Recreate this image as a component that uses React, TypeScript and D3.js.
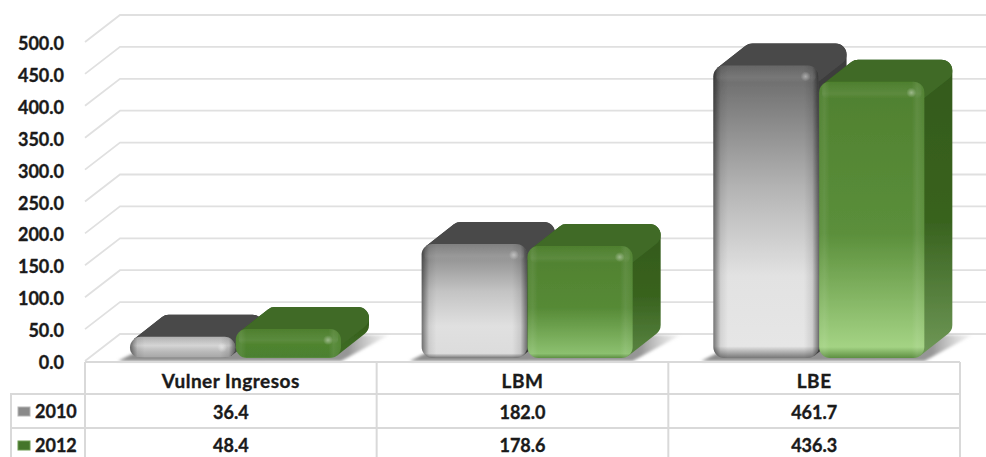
import React from "react";
import * as d3 from "d3";

const categories = ["Vulner Ingresos", "LBM", "LBE"];
const years = ["2010", "2012"];
const values2010 = [36.4, 182.0, 461.7];
const values2012 = [48.4, 178.6, 436.3];
const yTicks = [0, 50, 100, 150, 200, 250, 300, 350, 400, 450, 500];

const width = 986;
const height = 457;
const depthX = 28;
const depthY = 22;
const wallX = 35;
const wallY = 27;
const barBottom = 358;
const font = "Lato, Carlito, sans-serif";

const y = d3.scaleLinear().domain([0, 500]).range([361, 42]);
const x0 = d3.scaleBand().domain(categories).range([85, 960]);
const x1 = d3.scaleBand().domain(years).range([45, 256]).paddingInner(0.005);

const grayTop = d3.scaleLinear<string>().domain([36, 182, 462]).range(["#b0b0b0", "#808080", "#666666"]);
const grayMid = d3.scaleLinear<string>().domain([36, 182, 462]).range(["#d2d2d2", "#c4c4c4", "#b4b4b4"]);
const grayLow = d3.scaleLinear<string>().domain([36, 182, 462]).range(["#b8b8b8", "#e0e0e0", "#e2e2e2"]);
const grayBottom = d3.scaleLinear<string>().domain([36, 182, 462]).range(["#a8a8a8", "#dcdcdc", "#e6e6e6"]);
const greenMid = d3.scaleLinear<string>().domain([48, 178, 436]).range(["#4f842f", "#568a36", "#5b8f3b"]);
const greenBottom = d3.scaleLinear<string>().domain([48, 178, 436]).range(["#4c8030", "#8cc06f", "#a4d384"]);
const sideBottom = d3.scaleLinear<string>().domain([48, 178, 436]).range(["#3c6b22", "#55803d", "#6c9554"]);

const line = d3.line();

function Bar({ id, year, category, value }: { id: string; year: string; category: string; value: number }) {
  const isGreen = year === "2012";
  const left = x0(category)! + x1(year)!;
  const w = x1.bandwidth();
  const right = left + w;
  const top = y(value) - 1;
  const h = barBottom - top;
  const r = Math.min(11, h / 2);

  const silhouette = line([
    [left + r, top + r],
    [left + r + depthX, top - depthY + r],
    [right + depthX - r, top - depthY + r],
    [right + depthX - r, barBottom - depthY - r],
    [right - r, barBottom - r],
  ]);
  const topFace = line([
    [left + r, top + r],
    [left + r + depthX, top - depthY + r],
    [right + depthX - r, top - depthY + r],
    [right - r, top + r],
  ]);

  const sideFill = isGreen ? `url(#side-${id})` : "#3d3d3d";
  const topFill = isGreen ? "#3f6b26" : "#4a4a4a";

  return (
    <g>
      <defs>
        <linearGradient id={`front-${id}`} x1="0" y1="0" x2="0" y2="1">
          {isGreen ? (
            <>
              <stop offset="0" stopColor="#4f802f" />
              <stop offset="0.55" stopColor={greenMid(value)} />
              <stop offset="0.96" stopColor={greenBottom(value)} />
              <stop offset="1" stopColor="#5d8f42" />
            </>
          ) : (
            <>
              <stop offset="0" stopColor={grayTop(value)} />
              <stop offset="0.42" stopColor={grayMid(value)} />
              <stop offset="0.72" stopColor={grayLow(value)} />
              <stop offset="0.96" stopColor={grayBottom(value)} />
              <stop offset="1" stopColor="#777777" />
            </>
          )}
        </linearGradient>
        <linearGradient id={`side-${id}`} x1="0" y1="0" x2="0" y2="1">
          <stop offset="0" stopColor="#345a1d" />
          <stop offset="0.55" stopColor="#39631f" />
          <stop offset="1" stopColor={sideBottom(value)} />
        </linearGradient>
      </defs>
      <path d={silhouette!} fill={sideFill} stroke={sideFill} strokeWidth={r * 2} strokeLinejoin="round" />
      <path d={topFace!} fill={topFill} stroke={topFill} strokeWidth={r * 2} strokeLinejoin="round" />
      <rect x={left} y={top} width={w} height={h} rx={r} fill={`url(#front-${id})`} />
      <rect x={left} y={top} width={w} height={h} rx={r} fill={isGreen ? "url(#edgeGreen)" : "url(#edgeGray)"} />
      <rect x={left + 3} y={top + 1} width={w - 6} height={Math.min(16, h / 2)} rx={5} fill="url(#bevel)" />
      <circle cx={right - 13} cy={top + Math.min(11, h / 2)} r={5} fill="url(#glint)" />
    </g>
  );
}

function Shadow({ category }: { category: string }) {
  const start = x0(category)! + x1("2010")!;
  const end = x0(category)! + x1("2012")! + x1.bandwidth();
  const points = line([
    [start - 12, 361],
    [end, 361],
    [end + 48, 335],
    [start + 40, 335],
  ]);
  return <path d={points!} fill="url(#floorShadow)" filter="url(#soft)" />;
}

export default function App() {
  const rowLines = [394, 428];
  const columnLines = [x0("Vulner Ingresos")!, x0("LBM")!, x0("LBE")!, 960];
  const tableText = { fontFamily: font, fontWeight: 700, fontSize: 18, fill: "#1a1a1a", stroke: "#1a1a1a", strokeWidth: 0.35 };

  return (
    <svg width={width} height={height} style={{ position: "absolute", left: 0, top: 0, display: "block" }}>
      <defs>
        <linearGradient id="edgeGray" x1="0" y1="0" x2="1" y2="0">
          <stop offset="0" stopColor="#000" stopOpacity="0.5" />
          <stop offset="0.07" stopColor="#000" stopOpacity="0.08" />
          <stop offset="0.14" stopColor="#000" stopOpacity="0" />
          <stop offset="0.86" stopColor="#000" stopOpacity="0" />
          <stop offset="0.94" stopColor="#000" stopOpacity="0.1" />
          <stop offset="1" stopColor="#000" stopOpacity="0.5" />
        </linearGradient>
        <linearGradient id="edgeGreen" x1="0" y1="0" x2="1" y2="0">
          <stop offset="0" stopColor="#fff" stopOpacity="0.02" />
          <stop offset="0.05" stopColor="#fff" stopOpacity="0.07" />
          <stop offset="0.1" stopColor="#fff" stopOpacity="0" />
          <stop offset="0.88" stopColor="#fff" stopOpacity="0" />
          <stop offset="0.93" stopColor="#fff" stopOpacity="0.08" />
          <stop offset="1" stopColor="#fff" stopOpacity="0.02" />
        </linearGradient>
        <linearGradient id="bevel" x1="0" y1="0" x2="0" y2="1">
          <stop offset="0" stopColor="#fff" stopOpacity="0" />
          <stop offset="0.7" stopColor="#fff" stopOpacity="0.07" />
          <stop offset="1" stopColor="#fff" stopOpacity="0" />
        </linearGradient>
        <radialGradient id="glint">
          <stop offset="0" stopColor="#fff" stopOpacity="0.4" />
          <stop offset="1" stopColor="#fff" stopOpacity="0" />
        </radialGradient>
        <linearGradient id="floorShadow" x1="0" y1="0" x2="1" y2="0">
          <stop offset="0" stopColor="#8c8c8c" />
          <stop offset="0.85" stopColor="#969696" />
          <stop offset="1" stopColor="#c8c8c8" stopOpacity="0.2" />
        </linearGradient>
        <filter id="soft" x="-10%" y="-30%" width="120%" height="160%">
          <feGaussianBlur stdDeviation="1.5" />
        </filter>
        <filter id="lens" x="-5%" y="-5%" width="110%" height="110%">
          <feGaussianBlur stdDeviation="0.7" />
        </filter>
      </defs>

      {yTicks.map((t) => (
        <g key={t}>
          <path
            d={line([
              [85, y(t)],
              [85 + wallX, y(t) - wallY],
              [width, y(t) - wallY],
            ])!}
            fill="none"
            stroke="#e0e0e0"
            strokeWidth={1.8}
          />
          <text x={64} y={y(t) + 8} textAnchor="end" {...tableText}>
            {t.toFixed(1)}
          </text>
        </g>
      ))}

      {categories.map((c) => (
        <Shadow key={c} category={c} />
      ))}

      <g filter="url(#lens)">
        {categories.map((c, i) => (
          <g key={c}>
            <Bar id={`a${i}`} year="2010" category={c} value={values2010[i]} />
            <Bar id={`b${i}`} year="2012" category={c} value={values2012[i]} />
          </g>
        ))}
      </g>

      <g stroke="#d9d9d9" strokeWidth={2} fill="none">
        <path d={`M85,362H960`} />
        {rowLines.map((r) => (
          <path key={r} d={`M10,${r}H960`} />
        ))}
        {columnLines.map((c) => (
          <path key={c} d={`M${c},362V${height}`} />
        ))}
        <path d={`M11,394V${height}`} />
      </g>

      {categories.map((c, i) => {
        const cx = x0(c)! + x0.bandwidth() / 2;
        return (
          <g key={c} textAnchor="middle" {...tableText}>
            <text x={cx} y={388} fontSize={19} letterSpacing={0.5}>
              {c}
            </text>
            <text x={cx} y={419}>
              {values2010[i].toFixed(1)}
            </text>
            <text x={cx} y={452}>
              {values2012[i].toFixed(1)}
            </text>
          </g>
        );
      })}

      {years.map((year, i) => {
        const textY = [418, 452][i];
        return (
          <g key={year}>
            <rect x={18} y={textY - 11} width={12} height={9} fill={i === 0 ? "#8a8a8a" : "#44752a"} stroke={i === 0 ? "#b5b5b5" : "#6d9a50"} strokeWidth={1} />
            <text x={35} y={textY} {...tableText}>
              {year}
            </text>
          </g>
        );
      })}
    </svg>
  );
}
